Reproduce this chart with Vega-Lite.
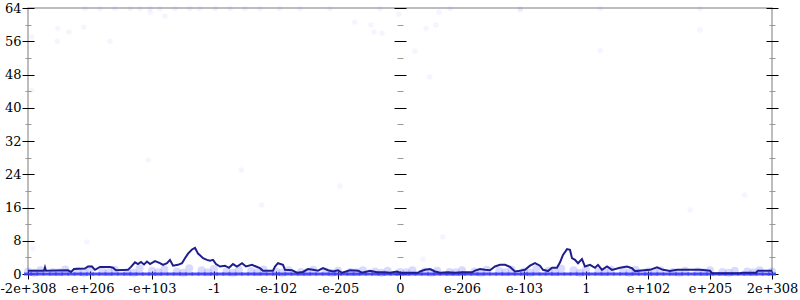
{
  "$schema": "https://vega.github.io/schema/vega-lite/v6.json",
  "width": 744,
  "height": 266,
  "autosize": {"type": "none"},
  "padding": {"left": 28, "top": 8, "right": 28, "bottom": 26},
  "background": "white",
  "config": {
    "view": {"stroke": "#a8a8a8", "strokeWidth": 1.5},
    "axis": {"labelFont": "DejaVu Serif", "labelFontSize": 13, "labelColor": "#000", "grid": false, "zindex": 1, "labelOverlap": false, "labelBound": false, "labelFlush": false, "title": null, "domain": false}
  },
  "datasets": {
    "line": [
      {"x": -6.0, "y": 0.8}, {"x": -5.742, "y": 0.8}, {"x": -5.726, "y": 1.6}, {"x": -5.71, "y": 0.8},
      {"x": -5.355, "y": 0.9}, {"x": -5.306, "y": 0.5}, {"x": -5.258, "y": 1.2}, {"x": -5.081, "y": 1.3},
      {"x": -5.032, "y": 1.8}, {"x": -4.968, "y": 1.8}, {"x": -4.919, "y": 1.0}, {"x": -4.839, "y": 1.7},
      {"x": -4.677, "y": 1.7}, {"x": -4.629, "y": 1.5}, {"x": -4.581, "y": 0.9}, {"x": -4.387, "y": 1.0},
      {"x": -4.339, "y": 1.7}, {"x": -4.274, "y": 2.8}, {"x": -4.226, "y": 2.4}, {"x": -4.177, "y": 2.9},
      {"x": -4.129, "y": 2.3}, {"x": -4.081, "y": 3.0}, {"x": -4.032, "y": 2.4}, {"x": -3.952, "y": 3.1},
      {"x": -3.871, "y": 2.6}, {"x": -3.823, "y": 2.2}, {"x": -3.758, "y": 2.6}, {"x": -3.71, "y": 3.4},
      {"x": -3.661, "y": 2.0}, {"x": -3.581, "y": 2.2}, {"x": -3.516, "y": 2.6}, {"x": -3.468, "y": 3.8},
      {"x": -3.419, "y": 4.9}, {"x": -3.355, "y": 5.9}, {"x": -3.306, "y": 6.3}, {"x": -3.258, "y": 4.9},
      {"x": -3.226, "y": 4.5}, {"x": -3.177, "y": 3.8}, {"x": -3.113, "y": 3.4}, {"x": -3.065, "y": 3.2},
      {"x": -3.016, "y": 3.4}, {"x": -2.968, "y": 2.4}, {"x": -2.903, "y": 1.8}, {"x": -2.823, "y": 2.0},
      {"x": -2.758, "y": 1.5}, {"x": -2.694, "y": 2.4}, {"x": -2.629, "y": 1.8}, {"x": -2.548, "y": 2.6},
      {"x": -2.484, "y": 1.8}, {"x": -2.387, "y": 2.2}, {"x": -2.323, "y": 1.8}, {"x": -2.258, "y": 1.4},
      {"x": -2.21, "y": 0.8}, {"x": -2.048, "y": 0.8}, {"x": -2.016, "y": 1.8}, {"x": -1.968, "y": 2.6},
      {"x": -1.887, "y": 2.2}, {"x": -1.855, "y": 1.0}, {"x": -1.742, "y": 0.9}, {"x": -1.661, "y": 0.3},
      {"x": -1.565, "y": 0.5}, {"x": -1.484, "y": 1.2}, {"x": -1.403, "y": 1.0}, {"x": -1.323, "y": 0.8},
      {"x": -1.242, "y": 1.4}, {"x": -1.161, "y": 0.9}, {"x": -1.081, "y": 0.6}, {"x": -1.0, "y": 0.9},
      {"x": -0.935, "y": 0.3}, {"x": -0.806, "y": 0.9}, {"x": -0.677, "y": 0.8}, {"x": -0.613, "y": 0.3},
      {"x": -0.484, "y": 0.8}, {"x": -0.371, "y": 0.4}, {"x": -0.242, "y": 0.4}, {"x": -0.161, "y": 0.3},
      {"x": -0.048, "y": 0.6}, {"x": 0.0, "y": 0.3}, {"x": 0.29, "y": 0.3}, {"x": 0.323, "y": 0.6},
      {"x": 0.403, "y": 1.0}, {"x": 0.484, "y": 1.2}, {"x": 0.565, "y": 0.6}, {"x": 0.645, "y": 0.3},
      {"x": 0.774, "y": 0.4}, {"x": 0.887, "y": 0.3}, {"x": 1.0, "y": 0.4}, {"x": 1.161, "y": 0.4},
      {"x": 1.21, "y": 0.8}, {"x": 1.29, "y": 1.2}, {"x": 1.371, "y": 1.0}, {"x": 1.452, "y": 0.9},
      {"x": 1.532, "y": 1.8}, {"x": 1.613, "y": 2.2}, {"x": 1.694, "y": 2.2}, {"x": 1.774, "y": 1.7},
      {"x": 1.855, "y": 0.6}, {"x": 1.935, "y": 0.8}, {"x": 2.016, "y": 1.0}, {"x": 2.097, "y": 2.0},
      {"x": 2.177, "y": 2.6}, {"x": 2.258, "y": 2.0}, {"x": 2.306, "y": 1.0}, {"x": 2.387, "y": 0.7},
      {"x": 2.452, "y": 1.5}, {"x": 2.532, "y": 1.5}, {"x": 2.581, "y": 2.8}, {"x": 2.629, "y": 4.6},
      {"x": 2.694, "y": 6.0}, {"x": 2.742, "y": 5.8}, {"x": 2.774, "y": 3.8}, {"x": 2.823, "y": 3.4},
      {"x": 2.871, "y": 2.6}, {"x": 2.935, "y": 3.6}, {"x": 2.984, "y": 1.8}, {"x": 3.065, "y": 2.2},
      {"x": 3.145, "y": 1.5}, {"x": 3.194, "y": 2.2}, {"x": 3.258, "y": 1.0}, {"x": 3.339, "y": 1.8},
      {"x": 3.419, "y": 1.0}, {"x": 3.548, "y": 1.5}, {"x": 3.661, "y": 1.8}, {"x": 3.742, "y": 1.4},
      {"x": 3.79, "y": 0.7}, {"x": 4.032, "y": 1.0}, {"x": 4.145, "y": 1.6}, {"x": 4.242, "y": 1.0},
      {"x": 4.355, "y": 0.7}, {"x": 4.468, "y": 1.0}, {"x": 4.839, "y": 1.0}, {"x": 5.0, "y": 0.8},
      {"x": 5.032, "y": 0.2}, {"x": 5.484, "y": 0.2}, {"x": 5.516, "y": 0.3}, {"x": 5.742, "y": 0.3},
      {"x": 5.774, "y": 0.8}, {"x": 6.0, "y": 0.8}
    ],
    "zero": [
      {"x": -6.0}, {"x": -5.9}, {"x": -5.8}, {"x": -5.7}, {"x": -5.6}, {"x": -5.5}, {"x": -5.4}, {"x": -5.3}, {"x": -5.2}, {"x": -5.1},
      {"x": -5.0}, {"x": -4.9}, {"x": -4.8}, {"x": -4.7}, {"x": -4.6}, {"x": -4.5}, {"x": -4.4}, {"x": -4.3}, {"x": -4.2}, {"x": -4.1},
      {"x": -4.0}, {"x": -3.9}, {"x": -3.8}, {"x": -3.7}, {"x": -3.6}, {"x": -3.5}, {"x": -3.4}, {"x": -3.3}, {"x": -3.2}, {"x": -3.1},
      {"x": -3.0}, {"x": -2.9}, {"x": -2.8}, {"x": -2.7}, {"x": -2.6}, {"x": -2.5}, {"x": -2.4}, {"x": -2.3}, {"x": -2.2}, {"x": -2.1},
      {"x": -2.0}, {"x": -1.9}, {"x": -1.8}, {"x": -1.7}, {"x": -1.6}, {"x": -1.5}, {"x": -1.4}, {"x": -1.3}, {"x": -1.2}, {"x": -1.1},
      {"x": -1.0}, {"x": -0.9}, {"x": -0.8}, {"x": -0.7}, {"x": -0.6}, {"x": -0.5}, {"x": -0.4}, {"x": -0.3}, {"x": -0.2}, {"x": -0.1},
      {"x": 0.0}, {"x": 0.1}, {"x": 0.2}, {"x": 0.3}, {"x": 0.4}, {"x": 0.5}, {"x": 0.6}, {"x": 0.7}, {"x": 0.8}, {"x": 0.9},
      {"x": 1.0}, {"x": 1.1}, {"x": 1.2}, {"x": 1.3}, {"x": 1.4}, {"x": 1.5}, {"x": 1.6}, {"x": 1.7}, {"x": 1.8}, {"x": 1.9},
      {"x": 2.0}, {"x": 2.1}, {"x": 2.2}, {"x": 2.3}, {"x": 2.4}, {"x": 2.5}, {"x": 2.6}, {"x": 2.7}, {"x": 2.8}, {"x": 2.9},
      {"x": 3.0}, {"x": 3.1}, {"x": 3.2}, {"x": 3.3}, {"x": 3.4}, {"x": 3.5}, {"x": 3.6}, {"x": 3.7}, {"x": 3.8}, {"x": 3.9},
      {"x": 4.0}, {"x": 4.1}, {"x": 4.2}, {"x": 4.3}, {"x": 4.4}, {"x": 4.5}, {"x": 4.6}, {"x": 4.7}, {"x": 4.8}, {"x": 4.9},
      {"x": 5.0}, {"x": 5.1}, {"x": 5.2}, {"x": 5.3}, {"x": 5.4}, {"x": 5.5}, {"x": 5.6}, {"x": 5.7}, {"x": 5.8}, {"x": 5.9},
      {"x": 6.0}
    ],
    "band": [
      {"x": -6.0, "y": 0.6}, {"x": -5.8, "y": 0.9}, {"x": -5.6, "y": 0.5}, {"x": -5.4, "y": 1.1}, {"x": -5.2, "y": 0.7},
      {"x": -5.0, "y": 1.2}, {"x": -4.8, "y": 0.6}, {"x": -4.6, "y": 1.0}, {"x": -4.4, "y": 0.5}, {"x": -4.2, "y": 1.3},
      {"x": -4.0, "y": 0.8}, {"x": -3.8, "y": 1.1}, {"x": -3.6, "y": 0.6}, {"x": -3.4, "y": 1.4}, {"x": -3.2, "y": 0.9},
      {"x": -3.0, "y": 1.2}, {"x": -2.8, "y": 0.6}, {"x": -2.6, "y": 1.0}, {"x": -2.4, "y": 0.7}, {"x": -2.2, "y": 1.1},
      {"x": -2.0, "y": 0.6}, {"x": -1.8, "y": 0.9}, {"x": -1.6, "y": 0.5}, {"x": -1.4, "y": 1.0}, {"x": -1.2, "y": 0.6},
      {"x": -1.0, "y": 0.8}, {"x": -0.8, "y": 0.5}, {"x": -0.6, "y": 0.9}, {"x": -0.4, "y": 0.6}, {"x": -0.2, "y": 0.8},
      {"x": 0.0, "y": 0.5}, {"x": 0.2, "y": 0.9}, {"x": 0.4, "y": 0.6}, {"x": 0.6, "y": 0.8}, {"x": 0.8, "y": 0.5},
      {"x": 1.0, "y": 0.9}, {"x": 1.2, "y": 0.6}, {"x": 1.4, "y": 1.0}, {"x": 1.6, "y": 0.7}, {"x": 1.8, "y": 1.1},
      {"x": 2.0, "y": 0.6}, {"x": 2.2, "y": 1.2}, {"x": 2.4, "y": 0.8}, {"x": 2.6, "y": 1.3}, {"x": 2.8, "y": 0.9},
      {"x": 3.0, "y": 1.1}, {"x": 3.2, "y": 0.6}, {"x": 3.4, "y": 1.0}, {"x": 3.6, "y": 0.7}, {"x": 3.8, "y": 1.0},
      {"x": 4.0, "y": 0.6}, {"x": 4.2, "y": 0.9}, {"x": 4.4, "y": 0.5}, {"x": 4.6, "y": 0.8}, {"x": 4.8, "y": 0.6},
      {"x": 5.0, "y": 0.9}, {"x": 5.2, "y": 0.5}, {"x": 5.4, "y": 0.8}, {"x": 5.6, "y": 0.6}, {"x": 5.8, "y": 0.9},
      {"x": 6.0, "y": 0.6},
      {"x": -5.9, "y": 0.3}, {"x": -5.5, "y": 0.4}, {"x": -5.1, "y": 0.3}, {"x": -4.7, "y": 0.4}, {"x": -4.3, "y": 0.3},
      {"x": -3.9, "y": 0.4}, {"x": -3.5, "y": 0.3}, {"x": -3.1, "y": 0.4}, {"x": -2.7, "y": 0.3}, {"x": -2.3, "y": 0.4},
      {"x": -1.9, "y": 0.3}, {"x": -1.5, "y": 0.4}, {"x": -1.1, "y": 0.3}, {"x": -0.7, "y": 0.4}, {"x": -0.3, "y": 0.3},
      {"x": 0.1, "y": 0.4}, {"x": 0.5, "y": 0.3}, {"x": 0.9, "y": 0.4}, {"x": 1.3, "y": 0.3}, {"x": 1.7, "y": 0.4},
      {"x": 2.1, "y": 0.3}, {"x": 2.5, "y": 0.4}, {"x": 2.9, "y": 0.3}, {"x": 3.3, "y": 0.4}, {"x": 3.7, "y": 0.3},
      {"x": 4.1, "y": 0.4}, {"x": 4.5, "y": 0.3}, {"x": 4.9, "y": 0.4}, {"x": 5.3, "y": 0.3}, {"x": 5.7, "y": 0.4}
    ],
    "scatter": [
      {"x": -5.52, "y": 59.1}, {"x": -5.34, "y": 58.2}, {"x": -5.1, "y": 59.4}, {"x": -5.53, "y": 56.0},
      {"x": -4.68, "y": 56.0}, {"x": -5.94, "y": 57.0}, {"x": -5.94, "y": 44.2}, {"x": -4.03, "y": 63.0},
      {"x": -3.79, "y": 62.0}, {"x": -4.06, "y": 27.4}, {"x": -2.56, "y": 25.0}, {"x": -0.97, "y": 21.2},
      {"x": -0.73, "y": 60.6}, {"x": -0.47, "y": 59.9}, {"x": -0.42, "y": 58.2}, {"x": -0.29, "y": 57.9},
      {"x": -0.02, "y": 62.5}, {"x": 0.42, "y": 59.1}, {"x": 0.58, "y": 59.9}, {"x": 0.63, "y": 63.0},
      {"x": 0.24, "y": 53.6}, {"x": 0.48, "y": 47.4}, {"x": 0.69, "y": 8.9}, {"x": 0.37, "y": 3.6},
      {"x": -5.05, "y": 7.7}, {"x": -5.92, "y": 6.2}, {"x": 4.68, "y": 15.4}, {"x": 5.56, "y": 19.0},
      {"x": -2.23, "y": 16.6}, {"x": 1.94, "y": 63.5}, {"x": 4.84, "y": 58.7}, {"x": 3.23, "y": 53.8},
      {"x": -5.08, "y": 63.8}, {"x": -4.84, "y": 63.8}, {"x": -4.6, "y": 63.8}, {"x": -4.35, "y": 63.8},
      {"x": -4.19, "y": 63.8}, {"x": -4.03, "y": 63.9}, {"x": -3.87, "y": 63.8}, {"x": -3.63, "y": 63.8},
      {"x": -3.39, "y": 63.9}, {"x": -3.23, "y": 63.8}, {"x": -2.98, "y": 63.8}, {"x": -2.74, "y": 63.9},
      {"x": -2.5, "y": 63.8}, {"x": -2.26, "y": 63.8}, {"x": -1.94, "y": 63.8}, {"x": -1.61, "y": 63.8},
      {"x": -1.13, "y": 63.8}, {"x": -0.32, "y": 63.8}, {"x": 0.81, "y": 63.8}, {"x": 1.94, "y": 63.8},
      {"x": 3.23, "y": 63.8}, {"x": 4.84, "y": 63.8}
    ]
  },
  "resolve": {"axis": {"x": "independent", "y": "independent"}},
  "layer": [
    {
      "data": {"name": "band"},
      "mark": {"type": "circle", "size": 64, "color": "#4646ff", "opacity": 0.2},
      "encoding": {
        "x": {"field": "x", "type": "quantitative", "scale": {"domain": [-6, 6], "nice": false, "zero": false},
          "axis": {"orient": "bottom", "offset": -3, "values": [-6, -5, -4, -3, -2, -1, 0, 1, 2, 3, 4, 5, 6], "tickColor": "#000", "tickSize": 8, "labelPadding": 3,
            "labelExpr": "['-2e+308','-e+206','-e+103','-1','-e-102','-e-205','0','e-206','e-103','1','e+102','e+205','2e+308'][datum.value + 6]"}},
        "y": {"field": "y", "type": "quantitative", "scale": {"domain": [0, 64], "nice": false},
          "axis": {"orient": "left", "offset": -6, "values": [0, 8, 16, 24, 32, 40, 48, 56, 64], "tickColor": "#000", "tickSize": 12, "labelPadding": 1}}
      }
    },
    {
      "data": {"name": "zero"},
      "mark": {"type": "tick", "orient": "horizontal", "size": 8, "thickness": 3, "color": "#3a3aff", "opacity": 0.85},
      "encoding": {
        "x": {"field": "x", "type": "quantitative", "scale": {"domain": [-6, 6], "nice": false, "zero": false}, "axis": null},
        "y": {"datum": 0, "type": "quantitative", "scale": {"domain": [0, 64], "nice": false},
          "axis": {"orient": "left", "offset": -3, "values": [4, 12, 20, 28, 36, 44, 52, 60], "labels": false, "tickColor": "#999", "tickSize": 6}}
      }
    },
    {
      "data": {"name": "scatter"},
      "mark": {"type": "circle", "size": 30, "color": "#3c3cff", "opacity": 0.05},
      "encoding": {
        "x": {"field": "x", "type": "quantitative", "scale": {"domain": [-6, 6], "nice": false, "zero": false}, "axis": null},
        "y": {"field": "y", "type": "quantitative", "scale": {"domain": [0, 64], "nice": false},
          "axis": {"orient": "left", "offset": -378, "values": [0, 8, 16, 24, 32, 40, 48, 56, 64], "labels": false, "tickColor": "#000", "tickSize": 12}}
      }
    },
    {
      "data": {"name": "line"},
      "mark": {"type": "line", "opacity": 0},
      "encoding": {
        "x": {"field": "x", "type": "quantitative", "scale": {"domain": [-6, 6], "nice": false, "zero": false}, "axis": null},
        "y": {"field": "y", "type": "quantitative", "scale": {"domain": [0, 64], "nice": false},
          "axis": {"orient": "left", "offset": -375, "values": [4, 12, 20, 28, 36, 44, 52, 60], "labels": false, "tickColor": "#999", "tickSize": 6}}
      }
    },
    {
      "data": {"name": "line"},
      "mark": {"type": "line", "opacity": 0},
      "encoding": {
        "x": {"field": "x", "type": "quantitative", "scale": {"domain": [-6, 6], "nice": false, "zero": false}, "axis": null},
        "y": {"field": "y", "type": "quantitative", "scale": {"domain": [0, 64], "nice": false},
          "axis": {"orient": "right", "offset": -6, "values": [0, 8, 16, 24, 32, 40, 48, 56, 64], "labels": false, "tickColor": "#000", "tickSize": 12}}
      }
    },
    {
      "mark": {"type": "rule", "color": "#a8a8a8", "strokeWidth": 1.5},
      "encoding": {"x": {"datum": 0, "type": "quantitative", "scale": {"domain": [-6, 6], "nice": false, "zero": false}, "axis": null}}
    },
    {
      "data": {"name": "line"},
      "mark": {"type": "line", "color": "#1e1e8c", "strokeWidth": 2},
      "encoding": {
        "x": {"field": "x", "type": "quantitative", "scale": {"domain": [-6, 6], "nice": false, "zero": false}, "axis": null},
        "y": {"field": "y", "type": "quantitative", "scale": {"domain": [0, 64], "nice": false},
          "axis": {"orient": "right", "offset": -3, "values": [4, 12, 20, 28, 36, 44, 52, 60], "labels": false, "tickColor": "#999", "tickSize": 6}}
      }
    }
  ]
}
